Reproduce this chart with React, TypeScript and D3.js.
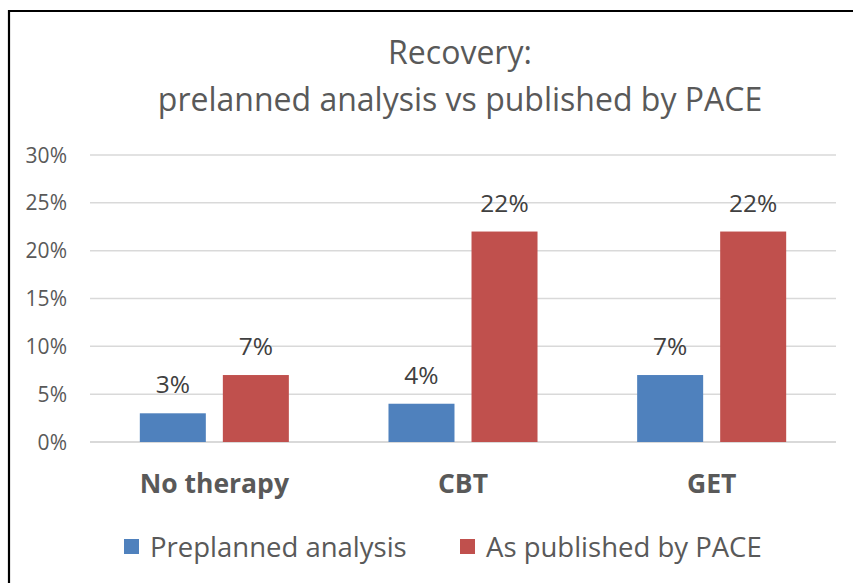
import * as d3 from 'd3';

const categories = ['No therapy', 'CBT', 'GET'];
const seriesNames = ['Preplanned analysis', 'As published by PACE'];
const preplanned = [3, 4, 7];
const published = [7, 22, 22];
const yTicks = [0, 5, 10, 15, 20, 25, 30];

const colors = ['#4F81BD', '#C0504D'];
const font = '"Open Sans", Lato, sans-serif';

export default function App() {
  const width = 853;
  const height = 583;
  const plotLeft = 90;
  const plotRight = 836;
  const plotTop = 155;
  const plotBottom = 442;

  const x = d3.scaleBand().domain(categories).range([plotLeft, plotRight]);
  // two bars per category, small gap between them
  const inner = d3.scaleBand().domain(seriesNames).range([0, x.bandwidth()]).paddingInner(0.205).paddingOuter(0.6);
  const y = d3.scaleLinear().domain([0, 30]).range([plotBottom, plotTop]);

  const series = [preplanned, published];
  const legendX = [124, 460];

  return (
    <svg width={width} height={height} style={{ position: 'absolute', left: 0, top: 0, background: '#fff' }}>
      <rect x={0} y={0} width={width} height={height} fill="#fff" />
      <path d={`M9,${height} V11 H${width}`} fill="none" stroke="#000" strokeWidth={2.2} />

      <g fill="#595959" fontFamily={font} textAnchor="middle" fontSize={32}>
        <text x={460} y={64}>Recovery:</text>
        <text x={460} y={111}>prelanned analysis vs published by PACE</text>
      </g>

      {yTicks.map(t => (
        <g key={t}>
          <line x1={plotLeft} x2={plotRight} y1={y(t)} y2={y(t)} stroke="#D9D9D9" strokeWidth={t === 0 ? 2 : 1.5} />
          <text x={67} y={y(t) + 7.5} textAnchor="end" fontSize={21} fill="#595959" fontFamily={font}>{t}%</text>
        </g>
      ))}

      {categories.map((c, i) => (
        <g key={c} transform={`translate(${x(c)},0)`}>
          {series.map((s, j) => {
            const bx = inner(seriesNames[j]) ?? 0;
            return (
              <g key={j}>
                <rect x={bx} y={y(s[i])} width={inner.bandwidth()} height={y(0) - y(s[i])} fill={colors[j]} />
                <text x={bx + inner.bandwidth() / 2} y={y(s[i]) - 20} textAnchor="middle" fontSize={24.5} fill="#404040" fontFamily={font}>{s[i]}%</text>
              </g>
            );
          })}
          <text x={x.bandwidth() / 2} y={493} textAnchor="middle" fontSize={26.5} fontWeight="bold" fill="#595959" fontFamily={font}>{c}</text>
        </g>
      ))}

      <g fontFamily={font} fontSize={27.5} fill="#595959">
        {seriesNames.map((n, j) => (
          <g key={n}>
            <rect x={legendX[j]} y={539} width={15} height={15} fill={colors[j]} />
            <text x={legendX[j] + 26} y={557}>{n}</text>
          </g>
        ))}
      </g>
    </svg>
  );
}
